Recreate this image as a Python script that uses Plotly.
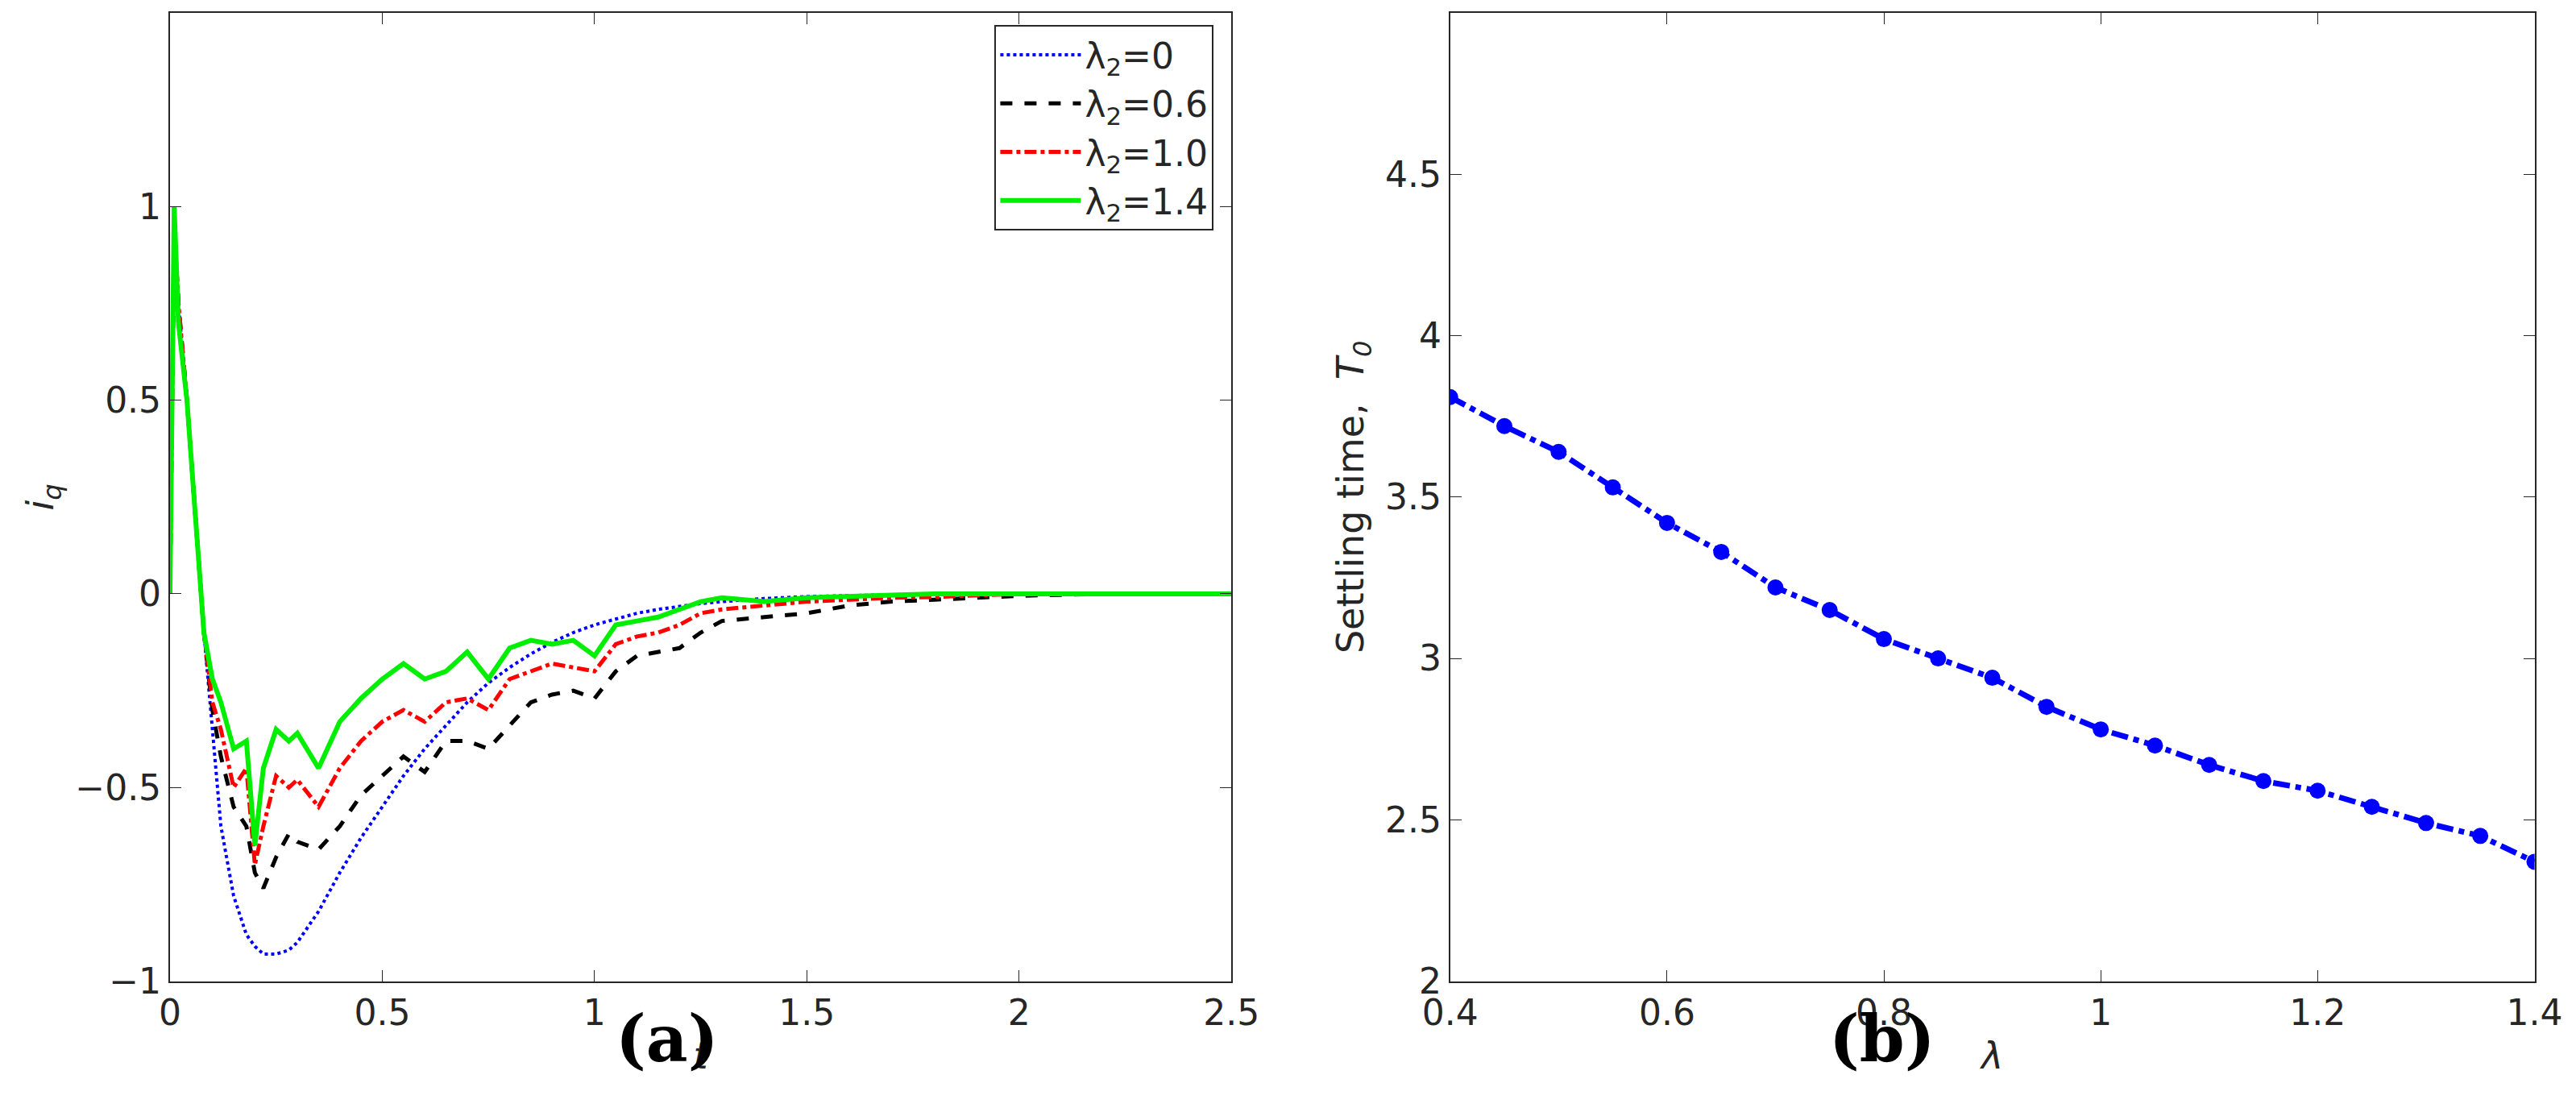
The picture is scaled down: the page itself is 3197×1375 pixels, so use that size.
import plotly.graph_objects as go

t = [0,0.01,0.02,0.04,0.06,0.08,0.10,0.12,0.15,0.18,0.2,0.22,0.25,0.28,0.3,0.35,0.4,0.45,0.5,0.55,0.6,0.65,0.7,0.75,0.8,0.85,0.9,0.95,1.0,1.05,1.1,1.15,1.2,1.25,1.3,1.4,1.5,1.6,1.7,1.8,1.9,2.0,2.2,2.5]
iq_0 = [0,0.9,0.75,0.5,0.2,-0.1,-0.35,-0.6,-0.78,-0.88,-0.91,-0.93,-0.93,-0.92,-0.9,-0.82,-0.72,-0.63,-0.55,-0.47,-0.40,-0.34,-0.28,-0.23,-0.19,-0.155,-0.125,-0.10,-0.08,-0.065,-0.05,-0.04,-0.032,-0.025,-0.02,-0.012,-0.007,-0.004,-0.002,-0.001,0,0,0,0]
iq_06 = [0,0.95,0.75,0.5,0.2,-0.1,-0.3,-0.42,-0.55,-0.6,-0.72,-0.76,-0.68,-0.62,-0.64,-0.66,-0.6,-0.52,-0.47,-0.42,-0.46,-0.38,-0.38,-0.40,-0.34,-0.28,-0.26,-0.25,-0.27,-0.2,-0.16,-0.15,-0.14,-0.10,-0.07,-0.06,-0.05,-0.03,-0.02,-0.015,-0.01,-0.005,0,0]
iq_10 = [0,0.95,0.75,0.5,0.2,-0.1,-0.28,-0.35,-0.5,-0.45,-0.7,-0.6,-0.47,-0.5,-0.48,-0.55,-0.45,-0.38,-0.33,-0.3,-0.33,-0.28,-0.27,-0.3,-0.22,-0.2,-0.18,-0.19,-0.2,-0.13,-0.11,-0.10,-0.08,-0.05,-0.04,-0.03,-0.02,-0.015,-0.01,-0.008,-0.005,0,0,0]
iq_14 = [0,1.0,0.7,0.5,0.2,-0.1,-0.22,-0.28,-0.4,-0.38,-0.65,-0.45,-0.35,-0.38,-0.36,-0.45,-0.33,-0.27,-0.22,-0.18,-0.22,-0.2,-0.15,-0.22,-0.14,-0.12,-0.13,-0.12,-0.16,-0.08,-0.07,-0.06,-0.04,-0.02,-0.01,-0.02,-0.01,-0.005,-0.003,0,0,0,0,0]

lam = [0.4,0.45,0.5,0.55,0.6,0.65,0.7,0.75,0.8,0.85,0.9,0.95,1.0,1.05,1.1,1.15,1.2,1.25,1.3,1.35,1.4]
T0 = [3.81,3.72,3.64,3.53,3.42,3.33,3.22,3.15,3.06,3.00,2.94,2.85,2.78,2.73,2.67,2.62,2.59,2.54,2.49,2.45,2.37]

fig = go.Figure()
series = [(iq_0, "λ<sub>2</sub>=0", "blue", "dot", 4),
          (iq_06, "λ<sub>2</sub>=0.6", "black", "dash", 5),
          (iq_10, "λ<sub>2</sub>=1.0", "red", "dashdot", 5),
          (iq_14, "λ<sub>2</sub>=1.4", "#00ee00", "solid", 6)]
for y, name, c, d, w in series:
    fig.add_trace(go.Scatter(x=t, y=y, name=name, mode="lines",
                             line=dict(color=c, dash=d, width=w), xaxis="x", yaxis="y"))
fig.add_trace(go.Scatter(x=lam, y=T0, mode="lines+markers", showlegend=False,
                         line=dict(color="blue", dash="dashdot", width=7),
                         marker=dict(symbol="circle", size=20, color="blue"),
                         xaxis="x2", yaxis="y2"))

ax = dict(showline=True, linecolor="#262626", linewidth=2, mirror="ticks", ticks="inside",
          ticklen=14, tickcolor="#262626", showgrid=False, zeroline=False,
          tickfont=dict(size=44, color="#262626"))
fig.update_layout(
    width=3197, height=1375, margin=dict(l=0, r=0, t=0, b=0),
    paper_bgcolor="white", plot_bgcolor="white",
    font=dict(family="DejaVu Sans", size=44, color="#262626"),
    xaxis=dict(domain=[0.0537, 0.475], range=[0, 2.5001], tickvals=[0, 0.5, 1, 1.5, 2, 2.5],
               ticktext=["0", "0.5", "1", "1.5", "2", "2.5"],
               title=dict(text="<i>t</i>", font=dict(size=46), standoff=12), anchor="y", **ax),
    yaxis=dict(domain=[0.104, 0.994], range=[-1.0001, 1.5001], tickvals=[-1, -0.5, 0, 0.5, 1, 1.5],
               ticktext=["−1", "−0.5", "0", "0.5", "1", "1.5"],
               title=dict(text="<i>i<sub>q</sub></i>", font=dict(size=46), standoff=12), anchor="x", **ax),
    xaxis2=dict(domain=[0.5618, 0.9922], range=[0.4, 1.4001], tickvals=[0.4, 0.6, 0.8, 1, 1.2, 1.4],
                ticktext=["0.4", "0.6", "0.8", "1", "1.2", "1.4"],
                title=dict(text="<i>λ</i>", font=dict(size=46), standoff=12), anchor="y2", **ax),
    yaxis2=dict(domain=[0.104, 0.994], range=[1.9999, 5.0001], tickvals=[2, 2.5, 3, 3.5, 4, 4.5, 5],
                ticktext=["2", "2.5", "3", "3.5", "4", "4.5", "5"],
                title=dict(text="Settling time,  <i>T<sub>0</sub></i>", font=dict(size=46), standoff=12),
                anchor="x2", **ax),
    legend=dict(x=0.468, y=0.983, xanchor="right", yanchor="top", bgcolor="white",
                bordercolor="#262626", borderwidth=2, font=dict(size=44, color="#262626"),
                itemwidth=100),
    annotations=[
        dict(text="<b>(a)</b>", x=0.23, y=0.015, xref="paper", yref="paper", yanchor="bottom",
             showarrow=False, font=dict(size=80, family="DejaVu Serif", color="black")),
        dict(text="<b>(b)</b>", x=0.755, y=0.015, xref="paper", yref="paper", yanchor="bottom",
             showarrow=False, font=dict(size=80, family="DejaVu Serif", color="black")),
    ],
)
fig.write_html("out.html")
